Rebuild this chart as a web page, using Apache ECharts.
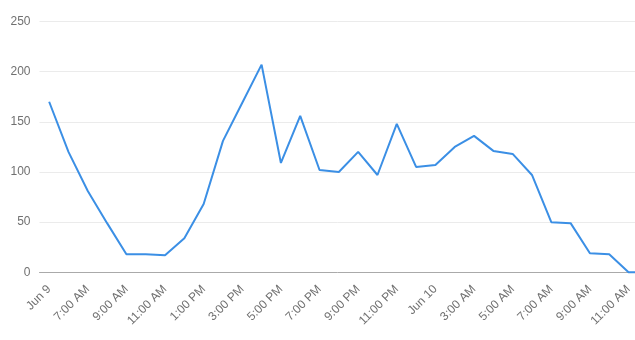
<!DOCTYPE html>
<html><head><meta charset="utf-8">
<script src="https://cdn.jsdelivr.net/npm/echarts@6/dist/echarts.min.js"></script>
<style>html,body{margin:0;padding:0;background:#fff}#c{width:635px;height:340px}</style>
</head><body><div id="c"></div>
<script>
const categories = ["Jun 9","6:00 AM","7:00 AM","8:00 AM","9:00 AM","10:00 AM","11:00 AM","12:00 PM","1:00 PM","2:00 PM","3:00 PM","4:00 PM","5:00 PM","6:00 PM","7:00 PM","8:00 PM","9:00 PM","10:00 PM","11:00 PM","12:00 AM","Jun 10","2:00 AM","3:00 AM","4:00 AM","5:00 AM","6:00 AM","7:00 AM","8:00 AM","9:00 AM","10:00 AM","11:00 AM","12:00 PM"];
const values = [170,120,81,49,18,18,17,34,68,131,169,207,109,156,102,100,120,97,148,105,107,125,136,121,118,97,50,49,19,18,0,0];
const yTicks = [0,50,100,150,200,250];

const chart = echarts.init(document.getElementById('c'), null, {renderer:'canvas'});
chart.setOption({
  animation:false,
  grid:{left:39.5, top:21.5, width:618, height:250.8, containLabel:false, outerBoundsMode:'none'},
  xAxis:{
    type:'category', data:categories, boundaryGap:true,
    axisLine:{lineStyle:{color:'#aaaaaa', width:1}},
    axisTick:{alignWithLabel:true, interval:1, length:5, lineStyle:{color:'#aaaaaa'}},
    axisLabel:{interval:1, rotate:45, margin:15, color:'#707070', fontSize:12, fontFamily:'Liberation Sans, Arial, sans-serif', hideOverlap:false},
    splitLine:{show:false}
  },
  yAxis:{
    type:'value', min:yTicks[0], max:yTicks[yTicks.length-1], interval:50,
    axisLine:{show:false}, axisTick:{show:false},
    axisLabel:{color:'#707070', fontSize:12, margin:9, fontFamily:'Liberation Sans, Arial, sans-serif'},
    splitLine:{lineStyle:{color:'#ebebeb', width:1}}
  },
  series:[{
    type:'line', data:values, showSymbol:false, symbol:'none', clip:false,
    lineStyle:{color:'#3b8fe5', width:2}, itemStyle:{color:'#3b8fe5'}
  }]
});
</script></body></html>
